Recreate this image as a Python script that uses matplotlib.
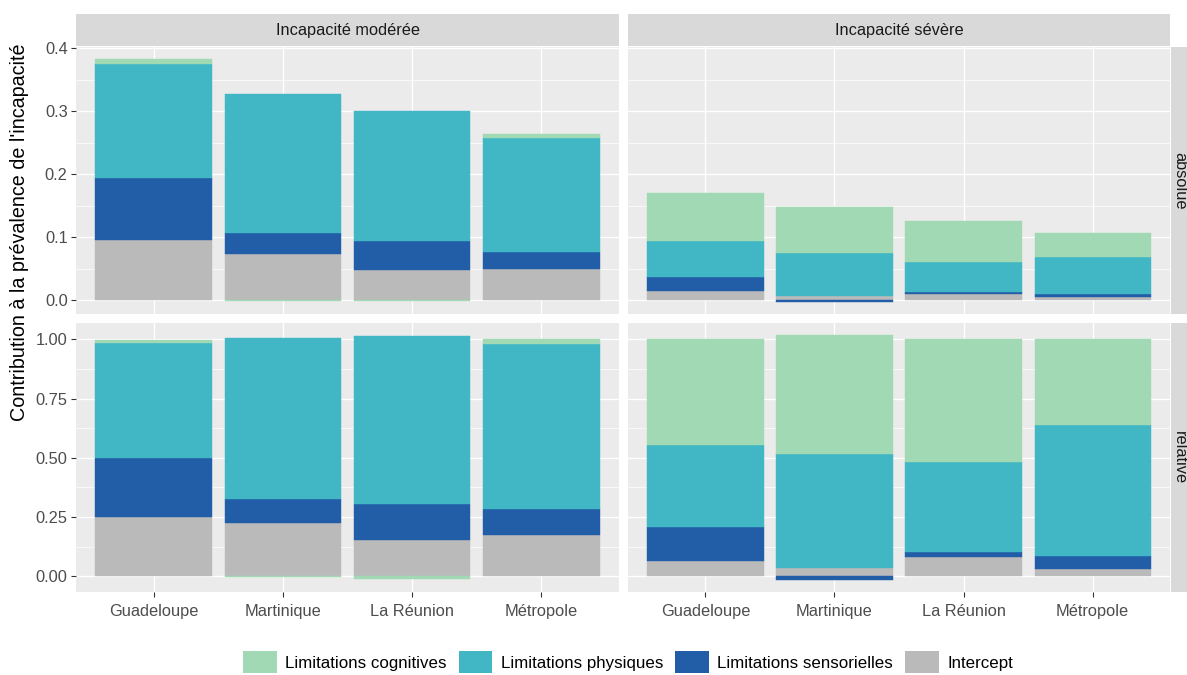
import matplotlib
matplotlib.use("Agg")
import matplotlib.pyplot as plt
from matplotlib.patches import Patch, Rectangle

plt.rcParams['font.family'] = ['Liberation Sans', 'DejaVu Sans']

regions = ["Guadeloupe", "Martinique", "La Réunion", "Métropole"]
components = ["Limitations cognitives", "Limitations physiques",
              "Limitations sensorielles", "Intercept"]
colors = ["#A1D9B4", "#41B6C4", "#225EA8", "#BABABA"]
col_labels = ["Incapacité modérée", "Incapacité sévère"]
row_labels = ["absolue", "relative"]

# contribution absolue
abs_mod_cog = [0.007, -0.002, -0.002, 0.006]
abs_mod_phys = [0.182, 0.221, 0.207, 0.181]
abs_mod_sens = [0.098, 0.034, 0.046, 0.027]
abs_mod_int = [0.096, 0.073, 0.047, 0.050]

abs_sev_cog = [0.076, 0.074, 0.065, 0.038]
abs_sev_phys = [0.057, 0.0685, 0.047, 0.058]
abs_sev_sens = [0.023, -0.003, 0.003, 0.006]
abs_sev_int = [0.014, 0.006, 0.010, 0.004]

# contribution relative
rel_mod_cog = [0.012, -0.005, -0.012, 0.017]
rel_mod_phys = [0.486, 0.680, 0.711, 0.697]
rel_mod_sens = [0.250, 0.103, 0.148, 0.110]
rel_mod_int = [0.250, 0.224, 0.155, 0.176]

rel_sev_cog = [0.447, 0.500, 0.516, 0.362]
rel_sev_phys = [0.347, 0.483, 0.381, 0.551]
rel_sev_sens = [0.143, -0.015, 0.023, 0.056]
rel_sev_int = [0.063, 0.035, 0.080, 0.031]

panels = {
    (0, 0): [abs_mod_cog, abs_mod_phys, abs_mod_sens, abs_mod_int],
    (0, 1): [abs_sev_cog, abs_sev_phys, abs_sev_sens, abs_sev_int],
    (1, 0): [rel_mod_cog, rel_mod_phys, rel_mod_sens, rel_mod_int],
    (1, 1): [rel_sev_cog, rel_sev_phys, rel_sev_sens, rel_sev_int],
}
row_ticks = [[0, 0.1, 0.2, 0.3, 0.4], [0, 0.25, 0.5, 0.75, 1.0]]
row_ticklabels = [["0.0", "0.1", "0.2", "0.3", "0.4"],
                  ["0.00", "0.25", "0.50", "0.75", "1.00"]]

W, H = 1187, 675
fig = plt.figure(figsize=(W / 100, H / 100), dpi=100)

col_x = [(76, 619), (628, 1170)]
row_y = [(47, 314), (323, 592)]


def box(x0, x1, y0, y1):
    return [x0 / W, 1 - y1 / H, (x1 - x0) / W, (y1 - y0) / H]


# y limits per row (shared across columns, ggplot 5% expansion)
row_lims = []
for r in range(2):
    lo, hi = 0, 0
    for c in range(2):
        series = panels[(r, c)]
        for i in range(len(regions)):
            pos = sum(s[i] for s in series if s[i] > 0)
            neg = sum(s[i] for s in series if s[i] < 0)
            hi = max(hi, pos)
            lo = min(lo, neg)
    pad = (hi - lo) * 0.05
    row_lims.append((lo - pad, hi + pad))

xs = list(range(1, len(regions) + 1))
for r in range(2):
    for c in range(2):
        ax = fig.add_axes(box(col_x[c][0], col_x[c][1], row_y[r][0], row_y[r][1]))
        ax.set_facecolor("#EBEBEB")
        for sp in ax.spines.values():
            sp.set_visible(False)
        series = panels[(r, c)]
        pos_b = [0.0] * len(regions)
        neg_b = [0.0] * len(regions)
        # ggplot stacks the last level at the bottom
        for k in reversed(range(len(components))):
            vals = series[k]
            bottoms = []
            for i, v in enumerate(vals):
                if v >= 0:
                    bottoms.append(pos_b[i])
                    pos_b[i] += v
                else:
                    bottoms.append(neg_b[i])
                    neg_b[i] += v
            ax.bar(xs, vals, bottom=bottoms, width=0.9, color=colors[k],
                   edgecolor=colors[k], linewidth=0.3, zorder=3)
        ax.set_xlim(0.4, len(regions) + 0.6)
        ax.set_ylim(*row_lims[r])
        ax.set_xticks(xs)
        ax.set_yticks(row_ticks[r])
        t = row_ticks[r]
        ax.set_yticks([(t[j] + t[j + 1]) / 2 for j in range(len(t) - 1)], minor=True)
        ax.grid(True, which="major", color="white", linewidth=1.0, zorder=0)
        ax.grid(True, which="minor", axis="y", color="white", linewidth=0.5, zorder=0)
        ax.set_axisbelow(True)
        ax.tick_params(which="minor", length=0)
        ax.tick_params(which="major", color="#333333", length=3.5, width=0.8,
                       labelsize=11.8, labelcolor="#4D4D4D", pad=2.5)
        ax.tick_params(axis="x", pad=5)
        if r == 1:
            ax.set_xticklabels(regions)
        else:
            ax.tick_params(axis="x", length=0, labelbottom=False)
        if c == 0:
            ax.set_yticklabels(row_ticklabels[r])
        else:
            ax.tick_params(axis="y", length=0, labelleft=False)

# strips
for c in range(2):
    x0, x1 = col_x[c]
    fig.patches.append(Rectangle((x0 / W, 1 - 46 / H), (x1 - x0) / W, 32 / H,
                                 transform=fig.transFigure, facecolor="#D9D9D9",
                                 edgecolor="none"))
    fig.text((x0 + x1) / 2 / W, 1 - 30 / H, col_labels[c], ha="center", va="center",
             fontsize=11.8, color="#1A1A1A")
for r in range(2):
    y0, y1 = row_y[r]
    fig.patches.append(Rectangle((1171 / W, 1 - y1 / H), 32 / W, (y1 - y0) / H,
                                 transform=fig.transFigure, facecolor="#D9D9D9",
                                 edgecolor="none"))
    fig.text(1179.5 / W, 1 - (y0 + y1) / 2 / H, row_labels[r], ha="center", va="center",
             rotation=-90, fontsize=11.8, color="#1A1A1A")

fig.text(20 / W, 1 - 232 / H, "Contribution à la prévalence de l'incapacité",
         rotation=90, ha="center", va="center", fontsize=14.2, color="black")

handles = [Patch(facecolor=col, edgecolor="none") for col in colors]
fig.legend(handles, components, loc="center", bbox_to_anchor=(628 / W, 1 - 662 / H),
           ncol=4, frameon=False, fontsize=12.2, handlelength=2.0, handleheight=1.7,
           handletextpad=0.5, columnspacing=0.7, borderpad=0)

fig.savefig("out.png", dpi=100)
